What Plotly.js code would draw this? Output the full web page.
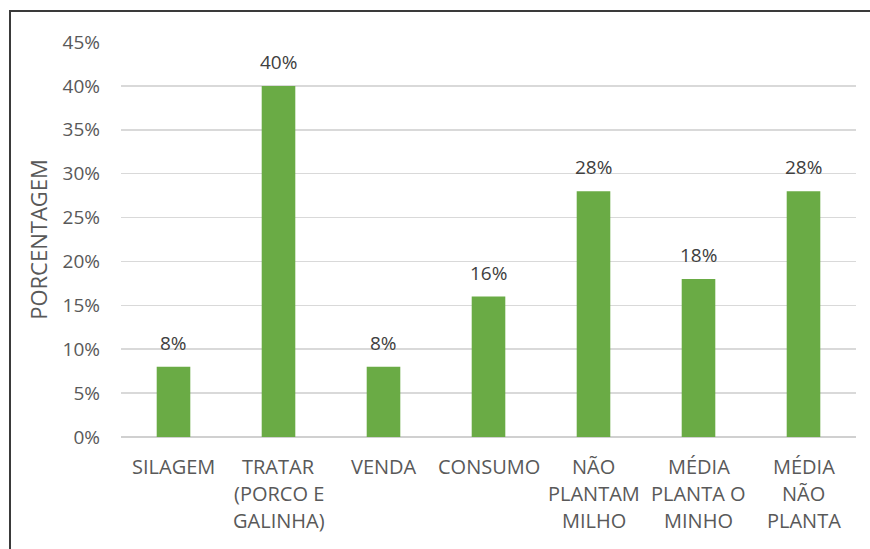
<!DOCTYPE html>
<html>
<head>
<meta charset="utf-8">
<script src="https://cdn.plot.ly/plotly-3.0.1.min.js"></script>
<style>
  html, body { margin: 0; padding: 0; background: #fff; }
  #wrap { position: relative; width: 870px; height: 549px; overflow: hidden; }
  #frame { position: absolute; left: 9px; top: 10px; width: 900px; height: 700px; border-left: 2px solid #3a3a3a; border-top: 2px solid #3a3a3a; box-sizing: border-box; pointer-events: none; }
  #chart { position: absolute; left: 0; top: 0; width: 870px; height: 549px; }
</style>
</head>
<body>
<div id="wrap">
  <div id="chart"></div>
  <div id="frame"></div>
</div>
<script>
const categories = ["SILAGEM", "TRATAR (PORCO E GALINHA)", "VENDA", "CONSUMO", "NÃO PLANTAM MILHO", "MÉDIA PLANTA O MINHO", "MÉDIA NÃO PLANTA"];
const labelLines = [["SILAGEM"], ["TRATAR", "(PORCO E", "GALINHA)"], ["VENDA"], ["CONSUMO"], ["NÃO", "PLANTAM", "MILHO"], ["MÉDIA", "PLANTA O", "MINHO"], ["MÉDIA", "NÃO", "PLANTA"]];
const values = [0.08, 0.40, 0.08, 0.16, 0.28, 0.18, 0.28];
const yTickVals = [0, 0.05, 0.10, 0.15, 0.20, 0.25, 0.30, 0.35, 0.40, 0.45];

const font = "Open Sans, Noto Sans, sans-serif";

const annotations = [];
labelLines.forEach((lines, i) => {
  lines.forEach((ln, j) => {
    annotations.push({
      x: categories[i], xref: 'x',
      y: 0, yref: 'y',
      yshift: -29 - 27 * j,
      text: ln, showarrow: false,
      font: {family: font, size: 20, color: '#595959'},
      xanchor: 'center', yanchor: 'middle'
    });
  });
});
values.forEach((v, i) => {
  annotations.push({
    x: categories[i], xref: 'x',
    y: v, yref: 'y',
    yshift: 24,
    text: Math.round(v * 100) + '%', showarrow: false,
    font: {family: font, size: 19, color: '#404040'},
    xanchor: 'center', yanchor: 'middle'
  });
});

const trace = {
  type: 'bar',
  x: categories,
  y: values,
  marker: {color: '#6aab45'},
  hoverinfo: 'none'
};

const layout = {
  width: 870, height: 549,
  margin: {l: 121, r: 14, t: 42, b: 112},
  paper_bgcolor: 'rgba(0,0,0,0)',
  plot_bgcolor: 'rgba(0,0,0,0)',
  bargap: 0.68,
  showlegend: false,
  xaxis: {
    type: 'category',
    showticklabels: false,
    showgrid: false,
    zeroline: false,
    showline: false,
    ticks: ''
  },
  yaxis: {
    range: [0, 0.45],
    tickvals: yTickVals,
    tickformat: '.0%',
    showgrid: true,
    gridcolor: '#d9d9d9',
    gridwidth: 1.5,
    zeroline: true,
    zerolinecolor: '#d0d0d0',
    zerolinewidth: 1.5,
    showline: false,
    ticks: '',
    ticklabelstandoff: 20,
    tickfont: {family: font, size: 19, color: '#595959'},
    title: {text: 'PORCENTAGEM', font: {family: font, size: 22, color: '#595959'}, standoff: 8}
  },
  annotations: annotations
};

Plotly.newPlot('chart', [trace], layout, {displayModeBar: false, staticPlot: true});
</script>
</body>
</html>
